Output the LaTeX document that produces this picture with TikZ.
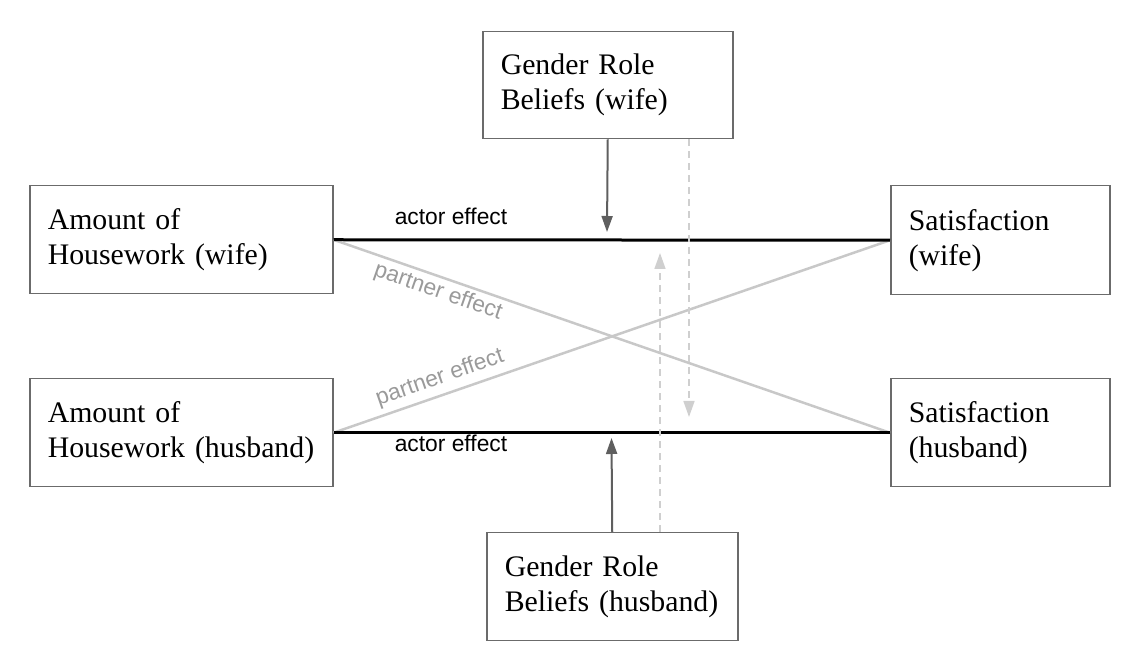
\documentclass[tikz,border=0pt]{standalone}
\usepackage{fontspec}
\setmainfont{Liberation Serif}
\newfontfamily\labelfont{Liberation Sans}
\usetikzlibrary{arrows.meta}
\definecolor{boxgray}{HTML}{6B6B6B}
\definecolor{partnergray}{HTML}{C8C8C8}
\definecolor{lblgray}{HTML}{9A9A9A}
\definecolor{arrowgray}{HTML}{5F5F5F}
\definecolor{dashgray}{HTML}{CFCFCF}

\begin{document}
\begin{tikzpicture}[x=0.5pt, y=-0.5pt, >={Triangle[width=5.5pt,length=8pt]},
  varbox/.style={draw=boxgray, line width=0.75pt, anchor=north west, align=left,
    inner xsep=9pt, inner ysep=0pt, font=\fontsize{14.9}{17.5}\selectfont},
  actorline/.style={black, line width=1.5pt},
  partnerline/.style={partnergray, line width=1.25pt},
  beliefarrow/.style={->, arrowgray, line width=1pt},
  feedback/.style={->, dashgray, line width=0.75pt, dash pattern=on 3.5pt off 2.5pt},
  actorlbl/.style={anchor=base, inner sep=0pt, font=\labelfont\fontsize{11.4}{13}\selectfont},
  partnerlbl/.style={lblgray, inner sep=0pt, font=\labelfont\fontsize{11.4}{13}\selectfont}]

\useasboundingbox (0,0) rectangle (1148,672);

% the six boxes
\node [varbox, text width=133.5pt, minimum height=54pt] (hw) at (29,185) {Amount of\\Housework (wife)};
\node [varbox, text width=133.5pt, minimum height=54pt] (hh) at (29,378) {Amount of\\Housework (husband)};
\node [varbox, text width=91.5pt, minimum height=54.5pt] (sw) at (890,185) {Satisfaction\\(wife)};
\node [varbox, text width=91.5pt, minimum height=54pt] (sh) at (890,378) {Satisfaction\\(husband)};
\node [varbox, text width=107pt, minimum height=53.5pt] (bw) at (482,31) {Gender Role\\Beliefs (wife)};
\node [varbox, text width=107.5pt, minimum height=54pt] (bh) at (486,532) {Gender Role\\Beliefs (husband)};

% partner effects
\draw [partnerline] (hw.east) -- (sh.west);
\draw [partnerline] (hh.east) -- (sw.west);
\node [partnerlbl, rotate=-19.1] (plw) at (438,292) {partner effect};
\node [partnerlbl, rotate=19.1] (plh) at (440,378) {partner effect};

% actor effects
\draw [actorline] (hw.east) -- (sw.west);
\draw [actorline] (hh.east) -- (sh.west);
\node [actorlbl] (alw) at (451,225) {actor effect};
\node [actorlbl] (alh) at (451,452) {actor effect};

% beliefs moderate the actor paths
\coordinate (bwtip) at (607,232);
\coordinate (bhtip) at (611.5,438);
\draw [beliefarrow] (bw.south) -- (bwtip);
\draw [beliefarrow] (bh.north) -- (bhtip);

% crossed dashed arrows
\coordinate (dwtip) at (689,417);
\coordinate (dhtip) at (660,253);
\draw [feedback] (bw.south -| dwtip) -- (dwtip);
\draw [feedback] (bh.north -| dhtip) -- (dhtip);

\end{tikzpicture}
\end{document}
